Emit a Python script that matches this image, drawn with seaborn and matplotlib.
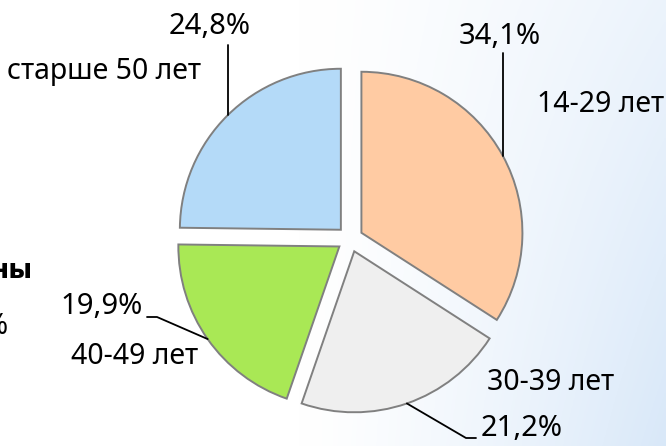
import numpy as np
import matplotlib
matplotlib.use("Agg")
import matplotlib.pyplot as plt
import seaborn as sns

# ---- data ----
categories = ["14-29 лет", "30-39 лет", "40-49 лет", "старше 50 лет"]
values = [34.1, 21.2, 19.9, 24.8]
pct_labels = ["34,1%", "21,2%", "19,9%", "24,8%"]
colors = ["#FFCBA3", "#EFEFEF", "#A9E855", "#B4DAF8"]

sns.set_theme(style="white")
plt.rcParams['font.family'] = ['Noto Sans', 'DejaVu Sans']
plt.rcParams['text.color'] = 'black'

W, H = 666, 446
fig = plt.figure(figsize=(W / 100, H / 100), dpi=100)
ax = fig.add_axes([0, 0, 1, 1])

# background gradient (white -> light blue at right/bottom)
xx, yy = np.meshgrid(np.linspace(0, 1, 300), np.linspace(0, 1, 200))
t = np.clip((xx - 0.45) / 0.55, 0, 1) ** 1.3 * (0.5 + 0.5 * yy)
c0 = np.array([1.0, 1.0, 1.0])
c1 = np.array([0.85, 0.91, 0.975])
img = c0[None, None, :] * (1 - t[..., None]) + c1[None, None, :] * t[..., None]
ax.imshow(img, extent=(0, W, 0, H), origin="upper", aspect="auto", zorder=0)

CX, CY, R = 350, H - 239, 161
EXPL = 13  # matplotlib applies explode in data units
wedges, _ = ax.pie(values, colors=sns.color_palette(colors), startangle=90,
                   counterclock=False, center=(CX, CY), radius=R,
                   explode=[EXPL] * len(values),
                   wedgeprops=dict(edgecolor="#808080", linewidth=1.4),
                   frame=True)

def attach(w):
    mid = np.deg2rad((w.theta1 + w.theta2) / 2)
    return (w.center[0] + w.r * np.cos(mid), w.center[1] + w.r * np.sin(mid))

def py(y):
    return H - y

pct_fs = 21
lab_fs = 20.5
lc = "black"

# 14-29 лет (index 0)
a0 = attach(wedges[0])
ax.plot([a0[0], a0[0]], [a0[1], py(53)], color=lc, lw=1.3, zorder=5)
ax.text(500, py(37), pct_labels[0], ha="center", va="center", fontsize=pct_fs)
ax.text(601, py(104), categories[0], ha="center", va="center", fontsize=lab_fs)

# 30-39 лет (index 1)
a1 = attach(wedges[1])
ax.plot([a1[0], 466, 476], [a1[1], py(438), py(438)], color=lc, lw=1.3, zorder=5)
ax.text(522, py(428), pct_labels[1], ha="center", va="center", fontsize=pct_fs)
ax.text(551, py(383), categories[1], ha="center", va="center", fontsize=lab_fs)

# 40-49 лет (index 2)
a2 = attach(wedges[2])
ax.plot([a2[0], 157, 147], [a2[1], py(317), py(317)], color=lc, lw=1.3, zorder=5)
ax.text(102, py(307), pct_labels[2], ha="center", va="center", fontsize=pct_fs)
ax.text(135, py(357), categories[2], ha="center", va="center", fontsize=lab_fs)

# старше 50 лет (index 3)
a3 = attach(wedges[3])
ax.plot([a3[0], a3[0]], [a3[1], py(45)], color=lc, lw=1.3, zorder=5)
ax.text(210, py(27), pct_labels[3], ha="center", va="center", fontsize=pct_fs)
ax.text(104, py(72), categories[3], ha="center", va="center", fontsize=lab_fs)

# fragments of neighbouring slide text at left edge
ax.text(33, py(271), "ны", ha="right", va="center", fontsize=19,
        fontweight="bold", family=["DejaVu Sans"])
ax.text(8, py(327), "%", ha="right", va="center", fontsize=pct_fs)

ax.set_xlim(0, W)
ax.set_ylim(0, H)
ax.set_aspect("auto")
ax.axis("off")

fig.savefig("out.png", dpi=100)
